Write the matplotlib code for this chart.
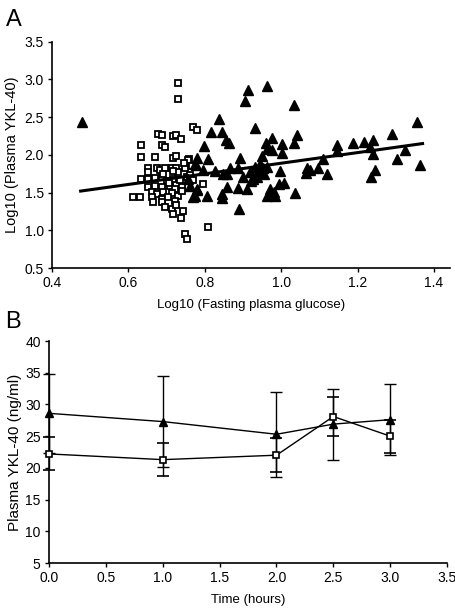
import matplotlib
matplotlib.use("Agg")
import matplotlib.pyplot as plt

plt.rcParams['font.family'] = ['Liberation Sans', 'DejaVu Sans']

# panel A - open squares
sq_x = [0.729, 0.729, 0.768, 0.779, 0.678, 0.687, 0.718, 0.725, 0.737, 0.632, 0.687, 0.697,
        0.632, 0.670, 0.718, 0.725, 0.759, 0.652, 0.652, 0.674, 0.683, 0.696, 0.713, 0.725,
        0.731, 0.748, 0.757, 0.766, 0.632, 0.652, 0.670, 0.687, 0.700, 0.718, 0.735, 0.753,
        0.652, 0.670, 0.687, 0.709, 0.722, 0.740, 0.661, 0.674, 0.691, 0.713, 0.731, 0.611,
        0.630, 0.661, 0.665, 0.687, 0.687, 0.704, 0.722, 0.696, 0.713, 0.725, 0.744, 0.716,
        0.737, 0.748, 0.754, 0.809, 0.761, 0.768, 0.796, 0.718, 0.740, 0.705, 0.690, 0.745]
sq_y = [2.95, 2.74, 2.37, 2.33, 2.28, 2.27, 2.25, 2.27, 2.21, 2.13, 2.13, 2.11,
        1.97, 1.97, 1.96, 1.99, 1.95, 1.83, 1.77, 1.82, 1.80, 1.82, 1.83, 1.82,
        1.77, 1.82, 1.93, 1.85, 1.68, 1.68, 1.70, 1.71, 1.66, 1.68, 1.67, 1.71,
        1.57, 1.59, 1.57, 1.59, 1.55, 1.57, 1.51, 1.48, 1.51, 1.49, 1.46, 1.44,
        1.44, 1.44, 1.37, 1.42, 1.37, 1.44, 1.39, 1.31, 1.28, 1.33, 1.26, 1.21,
        1.16, 0.95, 0.88, 1.04, 1.73, 1.67, 1.62, 1.78, 1.52, 1.63, 1.75, 1.89]

# panel A - filled triangles
tri_x = [0.478, 0.912, 0.962, 0.906, 1.034, 0.836, 0.816, 0.845, 0.931, 0.855, 0.863, 0.797,
         0.975, 0.960, 1.042, 1.034, 1.001, 0.962, 0.975, 1.001, 0.949, 0.892, 0.809, 0.779,
         0.777, 0.796, 0.827, 0.848, 0.857, 0.866, 0.888, 0.901, 0.918, 0.931, 0.936, 0.944,
         0.953, 0.962, 0.997, 1.067, 1.065, 1.097, 0.779, 0.770, 0.805, 0.844, 0.844, 0.857,
         0.888, 0.910, 0.927, 0.971, 0.980, 0.962, 0.984, 0.993, 1.007, 1.036, 0.890, 1.356,
         1.289, 1.145, 1.189, 1.217, 1.241, 1.145, 1.232, 1.109, 1.324, 1.240, 1.304, 1.075,
         1.121, 1.246, 1.234, 1.362, 0.774, 0.757, 0.761, 0.774, 0.779, 0.940, 0.955, 0.920]
tri_y = [2.43, 2.86, 2.91, 2.71, 2.66, 2.47, 2.31, 2.31, 2.35, 2.20, 2.16, 2.12,
         2.22, 2.16, 2.27, 2.16, 2.14, 2.08, 2.06, 2.02, 1.99, 1.96, 1.95, 1.96,
         1.86, 1.80, 1.79, 1.75, 1.74, 1.82, 1.82, 1.71, 1.77, 1.84, 1.71, 1.88,
         1.82, 1.84, 1.79, 1.83, 1.76, 1.82, 1.53, 1.44, 1.45, 1.48, 1.43, 1.57,
         1.56, 1.55, 1.68, 1.55, 1.51, 1.45, 1.46, 1.62, 1.63, 1.49, 1.28, 2.43,
         2.28, 2.13, 2.16, 2.17, 2.20, 2.05, 2.11, 1.95, 2.06, 2.01, 1.94, 1.80,
         1.74, 1.80, 1.71, 1.87, 1.88, 1.68, 1.59, 1.46, 1.55, 1.78, 1.74, 1.66]

fit_x = [0.475, 1.37]
fit_y = [1.52, 2.15]

# panel B
hours = [0.0, 1.0, 2.0, 2.5, 3.0]
tri_mean = [28.6, 27.3, 25.3, 26.9, 27.6]
tri_err = [6.2, 7.2, 6.7, 5.6, 5.6]
sq_mean = [22.2, 21.3, 22.0, 28.1, 25.0]
sq_err = [2.6, 2.6, 2.7, 3.0, 2.6]

fig = plt.figure(figsize=(4.56, 6.14), dpi=100)

axA = fig.add_axes([0.114, 0.5635, 0.873, 0.3685])
axA.plot(sq_x, sq_y, 's', ms=5, mfc='white', mec='black', mew=1.3, ls='none', zorder=3)
axA.plot(tri_x, tri_y, '^', ms=7, color='black', ls='none', zorder=3)
axA.plot(fit_x, fit_y, color='black', lw=2.2, zorder=4)
axA.set_xlim(0.4, 1.442)
axA.set_ylim(0.5, 3.5)
axA.set_xticks([0.4, 0.6, 0.8, 1.0, 1.2, 1.4])
axA.set_yticks([0.5, 1.0, 1.5, 2.0, 2.5, 3.0, 3.5])
axA.set_xticklabels(['0.4', '0.6', '0.8', '1.0', '1.2', '1.4'])
axA.set_yticklabels(['0.5', '1.0', '1.5', '2.0', '2.5', '3.0', '3.5'])
axA.set_xlabel('Log10 (Fasting plasma glucose)', fontsize=9.5, labelpad=6)
axA.set_ylabel('Log10 (Plasma YKL-40)', fontsize=10.5, labelpad=4)
fig.text(0.012, 0.985, 'A', fontsize=17, va='top', ha='left')

axB = fig.add_axes([0.1075, 0.083, 0.873, 0.3616])
axB.errorbar(hours, tri_mean, yerr=tri_err, color='black', lw=1, marker='^', ms=6,
             capsize=4, elinewidth=1, capthick=1, zorder=3)
axB.errorbar(hours, sq_mean, yerr=sq_err, color='black', lw=1, marker='s', ms=5,
             mfc='white', mec='black', mew=1.2, capsize=4, elinewidth=1, capthick=1, zorder=3)
axB.set_xlim(0, 3.5)
axB.set_ylim(5, 40)
axB.set_xticks([0.0, 0.5, 1.0, 1.5, 2.0, 2.5, 3.0, 3.5])
axB.set_xticklabels(['0.0', '0.5', '1.0', '1.5', '2.0', '2.5', '3.0', '3.5'])
axB.set_yticks([5, 10, 15, 20, 25, 30, 35, 40])
axB.set_xlabel('Time (hours)', fontsize=9.5, labelpad=6)
axB.set_ylabel('Plasma YKL-40 (ng/ml)', fontsize=11, labelpad=2)
fig.text(0.012, 0.493, 'B', fontsize=17, va='top', ha='left')

for ax in (axA, axB):
    for s in ('top', 'right'):
        ax.spines[s].set_visible(False)
    for s in ('left', 'bottom'):
        ax.spines[s].set_linewidth(1.2)
        ax.spines[s].set_clip_on(False)
    ax.tick_params(direction='out', length=3, width=1, labelsize=10, pad=3)
    for line in ax.get_lines():
        line.set_clip_on(False)

fig.savefig('out.png', dpi=100)
